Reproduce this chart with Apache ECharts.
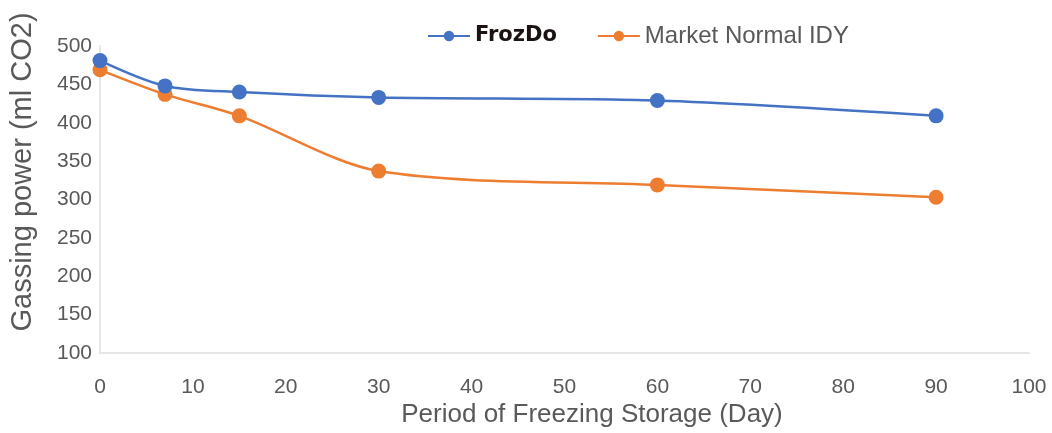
<!DOCTYPE html>
<html><head><meta charset="utf-8">
<script src="https://cdn.jsdelivr.net/npm/echarts@6/dist/echarts.min.js"></script>
<style>html,body{margin:0;padding:0;background:#fff}#c{width:1052px;height:433px}</style>
</head><body><div id="c"></div>
<script>
const days = [0, 7, 15, 30, 60, 90];
const frozdo = [481, 448, 440, 433, 429, 409];
const marketIDY = [469, 437, 409, 337, 319, 303];
const seriesNames = ['FrozDo', 'Market Normal IDY'];
const xTitle = 'Period of Freezing Storage (Day)';
const yTitle = 'Gassing power (ml CO2)';

const chart = echarts.init(document.getElementById('c'), null, {renderer: 'canvas'});
const font = 'Liberation Sans, Arial, sans-serif';
chart.setOption({
  animation: false,
  textStyle: {fontFamily: font},
  legend: {
    top: 19, left: 422, itemGap: 40, itemWidth: 42, itemHeight: 13,
    data: [
      {name: seriesNames[0], textStyle: {fontWeight: 'bold', color: '#1a1311', fontSize: 21, fontFamily: 'DejaVu Sans, sans-serif'}},
      {name: seriesNames[1], textStyle: {color: '#595959', fontSize: 24, fontFamily: font}}
    ]
  },
  graphic: [{
    type: 'text', x: 23, y: 172, rotation: Math.PI / 2,
    style: {text: yTitle, fill: '#595959', font: '29px ' + font, align: 'center', verticalAlign: 'middle'}
  }, {
    type: 'text', x: 592, y: 415,
    style: {text: xTitle, fill: '#595959', font: '26px ' + font, align: 'center', verticalAlign: 'middle'}
  }],
  grid: {left: 100, right: 23, top: 46, bottom: 80},
  xAxis: {
    type: 'value', min: 0, max: 100, interval: 10,
    axisLine: {show: true, lineStyle: {color: '#e6e6e6', width: 2}},
    axisTick: {show: false}, splitLine: {show: false},
    axisLabel: {fontSize: 21, color: '#595959', margin: 24, fontFamily: font}
  },
  yAxis: {
    type: 'value', min: 100, max: 500, interval: 50,
    axisLine: {show: true, lineStyle: {color: '#e6e6e6', width: 2}},
    axisTick: {show: false}, splitLine: {show: false},
    axisLabel: {fontSize: 21, color: '#595959', margin: 8, fontFamily: font}
  },
  series: [
    {name: seriesNames[0], type: 'line', smooth: 0.3, symbol: 'circle', symbolSize: 15,
     data: days.map((d, i) => [d, frozdo[i]]),
     lineStyle: {color: '#4472c4', width: 2.5}, itemStyle: {color: '#4472c4'}},
    {name: seriesNames[1], type: 'line', smooth: 0.3, symbol: 'circle', symbolSize: 15,
     data: days.map((d, i) => [d, marketIDY[i]]),
     lineStyle: {color: '#ed7d31', width: 2.5}, itemStyle: {color: '#ed7d31'}, z: 1}
  ]
});
</script></body></html>
